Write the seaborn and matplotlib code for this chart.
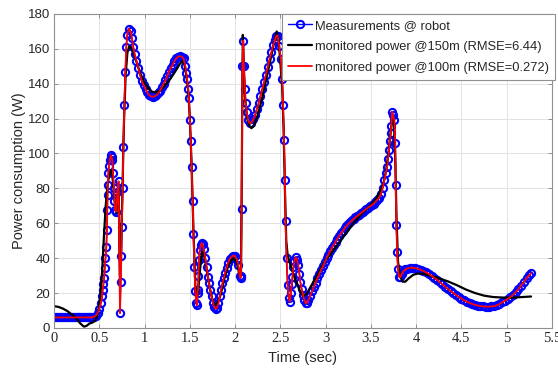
"""Measured vs monitored robot power consumption."""
import matplotlib
matplotlib.use("Agg")
import matplotlib.pyplot as plt
import seaborn as sns

# measured samples at the robot: (time in s, power in W)
measured = [
    (0.00, 6), (0.02, 6), (0.04, 6), (0.06, 6), (0.08, 6), (0.10, 6),
    (0.12, 6), (0.14, 6), (0.16, 6), (0.18, 6), (0.20, 6), (0.22, 6),
    (0.24, 6), (0.26, 6), (0.28, 6), (0.30, 6), (0.32, 6), (0.34, 6),
    (0.36, 6), (0.38, 6), (0.40, 6), (0.42, 6), (0.44, 6.5), (0.46, 7),
    (0.48, 8.5), (0.50, 11), (0.515, 14), (0.53, 18), (0.537, 22),
    (0.545, 25), (0.552, 28.6), (0.56, 34.6), (0.567, 40), (0.577, 46.6),
    (0.583, 56), (0.587, 67.6), (0.59, 76), (0.593, 82), (0.598, 88.6),
    (0.607, 93), (0.615, 96), (0.625, 99), (0.635, 98), (0.643, 96),
    (0.651, 88.6), (0.662, 80), (0.667, 73), (0.672, 67.6), (0.687, 66.7),
    (0.70, 78), (0.712, 84), (0.728, 8.4), (0.736, 26.5), (0.743, 41),
    (0.748, 58), (0.757, 80), (0.765, 104), (0.776, 128), (0.787, 147),
    (0.797, 161), (0.808, 168), (0.825, 171.5), (0.845, 170), (0.86, 166),
    (0.875, 161), (0.89, 157), (0.91, 153), (0.93, 149), (0.95, 145),
    (0.97, 141.5), (0.99, 139), (1.01, 137), (1.03, 135), (1.05, 133.5),
    (1.07, 132.7), (1.09, 132.5), (1.11, 132.8), (1.13, 133.5),
    (1.15, 134.5), (1.17, 136), (1.19, 138), (1.21, 140), (1.23, 142),
    (1.25, 144.5), (1.27, 147), (1.29, 149), (1.31, 151), (1.33, 153),
    (1.35, 154.5), (1.37, 155.5), (1.39, 155.8), (1.41, 155.5),
    (1.43, 154.5), (1.45, 150), (1.46, 146), (1.47, 142.6), (1.48, 137),
    (1.49, 131.6), (1.50, 119), (1.51, 107), (1.52, 92), (1.53, 73),
    (1.54, 54), (1.55, 35), (1.56, 21), (1.57, 14), (1.58, 13),
    (1.585, 20), (1.59, 22), (1.595, 30), (1.60, 39), (1.61, 44.7),
    (1.62, 47.5), (1.63, 48.6), (1.64, 48), (1.655, 45), (1.67, 40),
    (1.685, 35), (1.70, 29), (1.71, 25.7), (1.725, 21.5), (1.74, 18),
    (1.755, 14.5), (1.77, 12), (1.785, 11), (1.80, 11.5), (1.815, 14),
    (1.83, 18), (1.845, 22), (1.86, 25.5), (1.875, 28.5), (1.89, 31.5),
    (1.905, 34.5), (1.92, 37), (1.94, 39.5), (1.96, 40.8), (1.98, 41.5),
    (2.00, 41), (2.02, 39), (2.035, 36), (2.05, 30), (2.06, 28.5),
    (2.065, 30), (2.072, 68), (2.08, 150), (2.09, 164.6), (2.097, 150),
    (2.108, 137), (2.116, 129), (2.127, 124), (2.145, 119), (2.16, 117.5),
    (2.18, 117.5), (2.20, 119.5), (2.22, 122), (2.24, 125.5), (2.26, 129),
    (2.28, 133), (2.30, 137), (2.32, 141), (2.34, 145), (2.36, 149.5),
    (2.38, 154), (2.40, 158), (2.42, 162), (2.44, 165), (2.455, 167.5),
    (2.47, 167.5), (2.487, 161.5), (2.505, 154), (2.52, 142.6),
    (2.53, 127.7), (2.54, 108), (2.55, 85), (2.557, 61.4), (2.568, 40),
    (2.58, 24.6), (2.594, 17), (2.605, 15), (2.616, 20), (2.625, 25),
    (2.634, 29.4), (2.645, 35), (2.655, 38.5), (2.67, 40.6), (2.685, 39),
    (2.697, 36), (2.71, 31), (2.72, 26.5), (2.735, 22.5), (2.75, 19),
    (2.765, 16), (2.78, 14), (2.795, 14.5), (2.81, 16), (2.83, 18.5),
    (2.85, 21), (2.87, 23.5), (2.89, 26), (2.91, 28.5), (2.93, 31),
    (2.95, 33.2), (2.97, 35.3), (2.99, 37.5), (3.01, 40), (3.03, 42),
    (3.05, 44), (3.07, 46), (3.09, 47.8), (3.11, 49.5), (3.13, 51.2),
    (3.15, 52.8), (3.17, 54.3), (3.19, 55.8), (3.21, 57.2), (3.23, 58.5),
    (3.25, 59.6), (3.27, 60.6), (3.29, 61.6), (3.31, 62.5), (3.33, 63.4),
    (3.35, 64.2), (3.37, 65), (3.39, 65.8), (3.41, 66.6), (3.43, 67.4),
    (3.45, 68.2), (3.47, 69), (3.49, 69.7), (3.51, 70.4), (3.53, 71.3),
    (3.55, 72.3), (3.57, 73.4), (3.59, 74.6), (3.61, 76.5), (3.63, 80),
    (3.65, 85), (3.665, 89), (3.68, 92.5), (3.69, 97), (3.70, 102),
    (3.71, 107), (3.72, 112), (3.727, 116), (3.735, 124), (3.745, 122),
    (3.76, 119), (3.77, 106), (3.775, 82), (3.782, 59), (3.79, 43.6),
    (3.80, 34), (3.81, 29.4), (3.825, 29), (3.84, 31), (3.86, 32.5),
    (3.88, 33.5), (3.90, 34), (3.93, 34.5), (3.96, 34.5), (3.99, 34.2),
    (4.02, 33.8), (4.05, 33.3), (4.08, 32.6), (4.11, 31.8), (4.14, 30.9),
    (4.17, 29.9), (4.20, 28.8), (4.23, 27.6), (4.26, 26.3), (4.29, 25),
    (4.32, 23.7), (4.35, 22.4), (4.38, 21.2), (4.41, 20), (4.44, 18.9),
    (4.47, 17.8), (4.50, 16.8), (4.53, 15.9), (4.56, 15), (4.59, 14.3),
    (4.62, 13.7), (4.65, 13.2), (4.68, 12.8), (4.71, 12.5), (4.74, 12.3),
    (4.77, 12.2), (4.80, 12.2), (4.83, 12.3), (4.86, 12.5), (4.89, 12.9),
    (4.92, 13.6), (4.95, 14.6), (4.98, 15.5), (5.01, 16.5), (5.04, 17.7),
    (5.07, 19.0), (5.10, 20.5), (5.13, 22.2), (5.16, 24.2), (5.19, 26.3),
    (5.22, 28.4), (5.25, 30.3), (5.27, 31.3),
]
meas_t = [p[0] for p in measured]
meas_w = [p[1] for p in measured]

# monitored power with 150 m granularity
monitored_150 = [
    (0.00, 12.5), (0.05, 12), (0.10, 11), (0.15, 9.5), (0.20, 7.5),
    (0.25, 5), (0.29, 2.5), (0.33, 0.7), (0.36, 1.2), (0.39, 2.5),
    (0.42, 3), (0.45, 4), (0.47, 6), (0.49, 10), (0.51, 18), (0.53, 32),
    (0.55, 52), (0.57, 70), (0.59, 82), (0.61, 88), (0.625, 90.5),
    (0.64, 89), (0.655, 81), (0.67, 72), (0.687, 66), (0.70, 76),
    (0.712, 80), (0.728, 30), (0.74, 45), (0.755, 78), (0.77, 115),
    (0.79, 145), (0.81, 158), (0.83, 161.5), (0.85, 161), (0.88, 157),
    (0.92, 151), (0.96, 145), (1.00, 140.5), (1.04, 137.5), (1.08, 135.5),
    (1.12, 135), (1.16, 135.8), (1.20, 137.5), (1.25, 140.5), (1.30, 144),
    (1.35, 148), (1.39, 151.5), (1.42, 153), (1.44, 151), (1.46, 145),
    (1.48, 137), (1.50, 120), (1.52, 92), (1.54, 55), (1.56, 25),
    (1.575, 17), (1.59, 20), (1.61, 32), (1.63, 42), (1.645, 44),
    (1.665, 40), (1.69, 32), (1.72, 23), (1.75, 16), (1.775, 13),
    (1.80, 13.5), (1.84, 19), (1.88, 28), (1.92, 35), (1.96, 39),
    (1.99, 40), (2.02, 37), (2.045, 31), (2.065, 30), (2.075, 100),
    (2.085, 168), (2.095, 150), (2.11, 132), (2.13, 121), (2.155, 116),
    (2.18, 114.5), (2.21, 116), (2.25, 122), (2.30, 132), (2.35, 144),
    (2.40, 156), (2.44, 166), (2.46, 170), (2.48, 165), (2.50, 152),
    (2.52, 138), (2.535, 115), (2.55, 80), (2.565, 50), (2.58, 42),
    (2.60, 38), (2.63, 33), (2.67, 27), (2.71, 22), (2.75, 18),
    (2.79, 19.5), (2.85, 25), (2.90, 29.5), (2.95, 34.5), (3.00, 39),
    (3.05, 42), (3.10, 45.5), (3.15, 49), (3.20, 52.5), (3.25, 56),
    (3.30, 59.5), (3.35, 62.5), (3.40, 65.5), (3.45, 68), (3.50, 70.5),
    (3.55, 73.5), (3.60, 78), (3.64, 83), (3.67, 91), (3.70, 103),
    (3.72, 113), (3.74, 120), (3.755, 118), (3.77, 95), (3.785, 60),
    (3.80, 38), (3.82, 30), (3.85, 26.5), (3.88, 26.5), (3.92, 28.5),
    (3.97, 30.5), (4.02, 31.2), (4.08, 31), (4.15, 30), (4.25, 28.5),
    (4.35, 26.7), (4.45, 24.5), (4.55, 22), (4.65, 20), (4.75, 18.5),
    (4.85, 17.7), (4.95, 17.4), (5.05, 17.3), (5.15, 17.6), (5.27, 18),
]
mon150_t = [p[0] for p in monitored_150]
mon150_w = [p[1] for p in monitored_150]

# the 100 m monitor follows the measured samples almost exactly
mon100_t = meas_t
mon100_w = meas_w

x_ticks = [0, 0.5, 1, 1.5, 2, 2.5, 3, 3.5, 4, 4.5, 5, 5.5]
x_labels = ["0", "0.5", "1", "1.5", "2", "2.5", "3", "3.5", "4", "4.5", "5", "5.5"]
y_ticks = [0, 20, 40, 60, 80, 100, 120, 140, 160, 180]

sns.set_style("whitegrid")
plt.rcParams["font.family"] = ["Liberation Sans", "DejaVu Sans"]

fig = plt.figure(figsize=(5.58, 3.68), dpi=100)
ax = fig.add_axes([0.097, 0.109, 0.892, 0.853])

sns.lineplot(
    x=meas_t, y=meas_w, ax=ax, sort=False, estimator=None,
    color="#0000ff", linewidth=1.0, marker="o", markersize=5.2,
    markerfacecolor="none", markeredgecolor="#0000ff", markeredgewidth=1.5,
    label="Measurements @ robot",
)
sns.lineplot(
    x=mon150_t, y=mon150_w, ax=ax, sort=False, estimator=None,
    color="black", linewidth=1.6, label="monitored power @150m (RMSE=6.44)",
)
sns.lineplot(
    x=mon100_t, y=mon100_w, ax=ax, sort=False, estimator=None,
    color="#ff0000", linewidth=1.3, label="monitored power @100m (RMSE=0.272)",
)

ax.set_xlim(0, 5.5)
ax.set_ylim(0, 180)
ax.set_xticks(x_ticks)
ax.set_xticklabels(x_labels, fontfamily="Liberation Serif", fontsize=10.5)
ax.set_yticks(y_ticks)
ax.tick_params(axis="y", labelsize=9.5)
ax.tick_params(direction="in", length=3, width=0.6, color="#808080",
               labelcolor="#262626", top=True, right=True, bottom=True,
               left=True, pad=3)
ax.grid(True, color="#e3e3e3", linewidth=0.7)
for side in ax.spines.values():
    side.set_color("#909090")
    side.set_linewidth(0.8)

ax.set_xlabel("Time (sec)", fontsize=10.5, color="#262626", labelpad=4)
ax.set_ylabel("Power consumption (W)", fontsize=10.5, color="#262626",
              labelpad=1)

leg = ax.legend(loc="upper right", bbox_to_anchor=(1.006, 1.0),
                borderaxespad=0, fontsize=9.3, handlelength=1.9,
                handletextpad=0.2, borderpad=0.45, labelspacing=0.7,
                fancybox=False, framealpha=1, edgecolor="#909090")
leg.get_frame().set_linewidth(0.8)
for txt in leg.get_texts():
    txt.set_color("#262626")

fig.savefig("out.png", dpi=100)
